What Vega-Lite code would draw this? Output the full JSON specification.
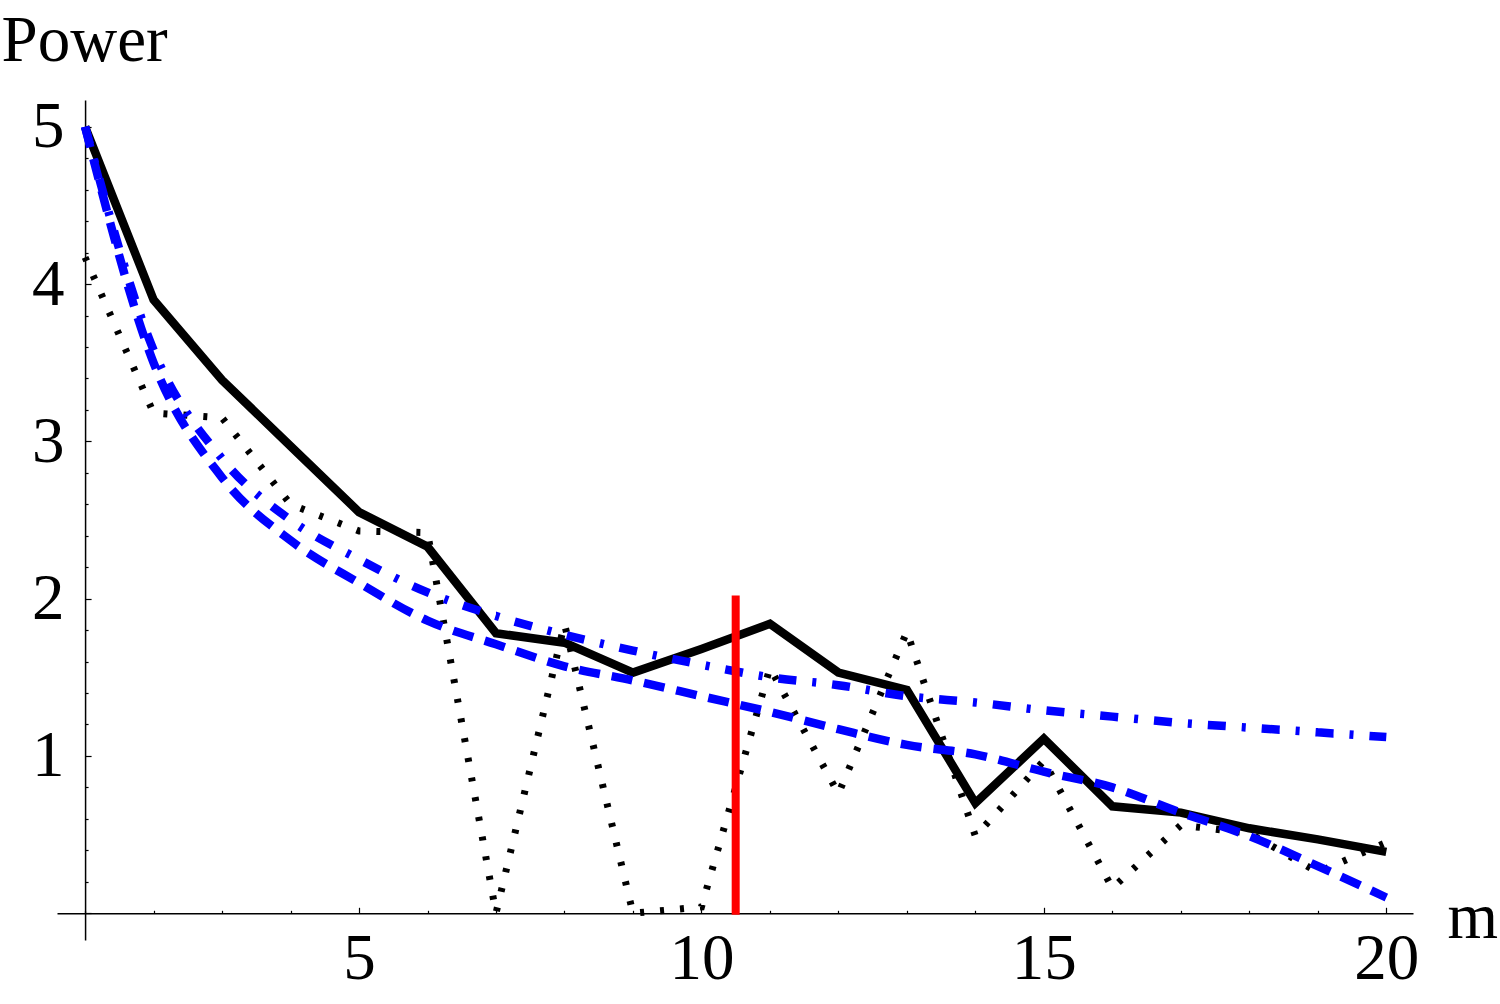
{
  "$schema": "https://vega.github.io/schema/vega-lite/v6.json",
  "width": 1356,
  "height": 840,
  "autosize": "none",
  "padding": {"left": 57, "top": 100, "right": 87, "bottom": 64},
  "background": "white",
  "config": {"view": {"stroke": null}, "font": "Liberation Serif"},
  "data": {"values": [
    {"m": 1, "power": 4.17, "series": "dotted"},
    {"m": 2, "power": 3.18, "series": "dotted"},
    {"m": 3, "power": 3.15, "series": "dotted"},
    {"m": 4, "power": 2.6, "series": "dotted"},
    {"m": 5, "power": 2.43, "series": "dotted"},
    {"m": 6, "power": 2.42, "series": "dotted"},
    {"m": 7, "power": 0.0, "series": "dotted"},
    {"m": 8, "power": 1.84, "series": "dotted"},
    {"m": 9, "power": 0.0, "series": "dotted"},
    {"m": 10, "power": 0.04, "series": "dotted"},
    {"m": 11, "power": 1.56, "series": "dotted"},
    {"m": 12, "power": 0.76, "series": "dotted"},
    {"m": 13, "power": 1.79, "series": "dotted"},
    {"m": 14, "power": 0.49, "series": "dotted"},
    {"m": 15, "power": 0.97, "series": "dotted"},
    {"m": 16, "power": 0.16, "series": "dotted"},
    {"m": 17, "power": 0.56, "series": "dotted"},
    {"m": 18, "power": 0.51, "series": "dotted"},
    {"m": 19, "power": 0.26, "series": "dotted"},
    {"m": 20, "power": 0.45, "series": "dotted"},
    {"m": 1, "power": 5.0, "series": "solid"},
    {"m": 2, "power": 3.9, "series": "solid"},
    {"m": 3, "power": 3.39, "series": "solid"},
    {"m": 4, "power": 2.97, "series": "solid"},
    {"m": 5, "power": 2.55, "series": "solid"},
    {"m": 6, "power": 2.33, "series": "solid"},
    {"m": 7, "power": 1.78, "series": "solid"},
    {"m": 8, "power": 1.72, "series": "solid"},
    {"m": 9, "power": 1.53, "series": "solid"},
    {"m": 10, "power": 1.68, "series": "solid"},
    {"m": 11, "power": 1.84, "series": "solid"},
    {"m": 12, "power": 1.53, "series": "solid"},
    {"m": 13, "power": 1.42, "series": "solid"},
    {"m": 14, "power": 0.7, "series": "solid"},
    {"m": 15, "power": 1.11, "series": "solid"},
    {"m": 16, "power": 0.68, "series": "solid"},
    {"m": 17, "power": 0.64, "series": "solid"},
    {"m": 18, "power": 0.54, "series": "solid"},
    {"m": 19, "power": 0.47, "series": "solid"},
    {"m": 20, "power": 0.39, "series": "solid"},
    {"m": 1, "power": 5.0, "series": "dashed"},
    {"m": 2, "power": 3.5, "series": "dashed"},
    {"m": 3, "power": 2.77, "series": "dashed"},
    {"m": 4, "power": 2.37, "series": "dashed"},
    {"m": 5, "power": 2.1, "series": "dashed"},
    {"m": 6, "power": 1.86, "series": "dashed"},
    {"m": 7, "power": 1.71, "series": "dashed"},
    {"m": 8, "power": 1.57, "series": "dashed"},
    {"m": 9, "power": 1.48, "series": "dashed"},
    {"m": 10, "power": 1.38, "series": "dashed"},
    {"m": 11, "power": 1.28, "series": "dashed"},
    {"m": 12, "power": 1.17, "series": "dashed"},
    {"m": 13, "power": 1.07, "series": "dashed"},
    {"m": 14, "power": 1.01, "series": "dashed"},
    {"m": 15, "power": 0.9, "series": "dashed"},
    {"m": 16, "power": 0.8, "series": "dashed"},
    {"m": 17, "power": 0.64, "series": "dashed"},
    {"m": 18, "power": 0.49, "series": "dashed"},
    {"m": 19, "power": 0.3, "series": "dashed"},
    {"m": 20, "power": 0.1, "series": "dashed"},
    {"m": 1, "power": 5.0, "series": "dashdot"},
    {"m": 2, "power": 3.58, "series": "dashdot"},
    {"m": 3, "power": 2.89, "series": "dashdot"},
    {"m": 4, "power": 2.5, "series": "dashdot"},
    {"m": 5, "power": 2.25, "series": "dashdot"},
    {"m": 6, "power": 2.04, "series": "dashdot"},
    {"m": 7, "power": 1.89, "series": "dashdot"},
    {"m": 8, "power": 1.77, "series": "dashdot"},
    {"m": 9, "power": 1.67, "series": "dashdot"},
    {"m": 10, "power": 1.58, "series": "dashdot"},
    {"m": 11, "power": 1.5, "series": "dashdot"},
    {"m": 12, "power": 1.45, "series": "dashdot"},
    {"m": 13, "power": 1.38, "series": "dashdot"},
    {"m": 14, "power": 1.34, "series": "dashdot"},
    {"m": 15, "power": 1.29, "series": "dashdot"},
    {"m": 16, "power": 1.25, "series": "dashdot"},
    {"m": 17, "power": 1.21, "series": "dashdot"},
    {"m": 18, "power": 1.18, "series": "dashdot"},
    {"m": 19, "power": 1.15, "series": "dashdot"},
    {"m": 20, "power": 1.12, "series": "dashdot"},
    {"m": 10.5, "power": -0.01, "power2": 2.02, "series": "marker"}
  ]},
  "encoding": {
    "x": {
      "field": "m", "type": "quantitative",
      "scale": {"domain": [0.59, 20.39], "nice": false, "zero": false},
      "axis": {
        "values": [1,2,3,4,5,6,7,8,9,10,11,12,13,14,15,16,17,18,19,20],
        "labelExpr": "datum.value % 5 === 0 ? datum.label : ''",
        "offset": -26.7,
        "grid": false,
        "domainColor": "black", "domainWidth": 1.5,
        "tickColor": "black", "tickWidth": 1.2,
        "tickSize": {"condition": {"test": "datum.value % 5 === 0", "value": -6}, "value": -3},
        "labelPadding": 20,
        "labelFont": "Liberation Serif", "labelFontSize": 65, "labelColor": "black",
        "labelFlush": false, "labelOverlap": false, "labelBound": false,
        "title": "m",
        "titleFont": "Liberation Serif", "titleFontSize": 65, "titleFontWeight": "normal", "titleColor": "black",
        "titleAlign": "left", "titleBaseline": "alphabetic", "titleAngle": 0,
        "titleX": 1390, "titleY": 24
      }
    },
    "y": {
      "field": "power", "type": "quantitative",
      "scale": {"domain": [-0.17, 5.17], "nice": false, "zero": false},
      "axis": {
        "values": [0,0.2,0.4,0.6,0.8,1,1.2,1.4,1.6,1.8,2,2.2,2.4,2.6,2.8,3,3.2,3.4,3.6,3.8,4,4.2,4.4,4.6,4.8,5],
        "labelExpr": "abs(datum.value - round(datum.value)) < 0.001 && datum.value > 0.5 ? format(datum.value, 'd') : ''",
        "offset": -28.08,
        "grid": false,
        "domainColor": "black", "domainWidth": 1.5,
        "tickColor": "black", "tickWidth": 1.2,
        "tickSize": {"condition": {"test": "abs(datum.value - round(datum.value)) < 0.001", "value": -6}, "value": -3},
        "labelPadding": 27,
        "labelFont": "Liberation Serif", "labelFontSize": 65, "labelColor": "black",
        "labelFlush": false, "labelOverlap": false, "labelBound": false,
        "title": "Power",
        "titleFont": "Liberation Serif", "titleFontSize": 65, "titleFontWeight": "normal", "titleColor": "black",
        "titleAlign": "left", "titleBaseline": "alphabetic", "titleAngle": 0,
        "titleX": -84, "titleY": -40
      }
    }
  },
  "layer": [
    {
      "transform": [{"filter": "datum.series === 'dotted'"}],
      "mark": {"type": "line", "stroke": "black", "strokeWidth": 7, "strokeDash": [4, 16], "strokeCap": "butt", "clip": false}
    },
    {
      "transform": [{"filter": "datum.series === 'solid'"}],
      "mark": {"type": "line", "stroke": "black", "strokeWidth": 8.5, "strokeJoin": "miter"}
    },
    {
      "transform": [{"filter": "datum.series === 'dashed'"}],
      "mark": {"type": "line", "stroke": "#0000ff", "strokeWidth": 8.5, "strokeDash": [21, 12], "strokeCap": "butt", "interpolate": "monotone"}
    },
    {
      "transform": [{"filter": "datum.series === 'dashdot'"}],
      "mark": {"type": "line", "stroke": "#0000ff", "strokeWidth": 8.5, "strokeDash": [18, 16, 4, 16], "strokeCap": "butt", "interpolate": "monotone"}
    },
    {
      "transform": [{"filter": "datum.series === 'marker'"}],
      "mark": {"type": "rule", "stroke": "#ff0000", "strokeWidth": 8},
      "encoding": {"y2": {"field": "power2"}}
    }
  ]
}
